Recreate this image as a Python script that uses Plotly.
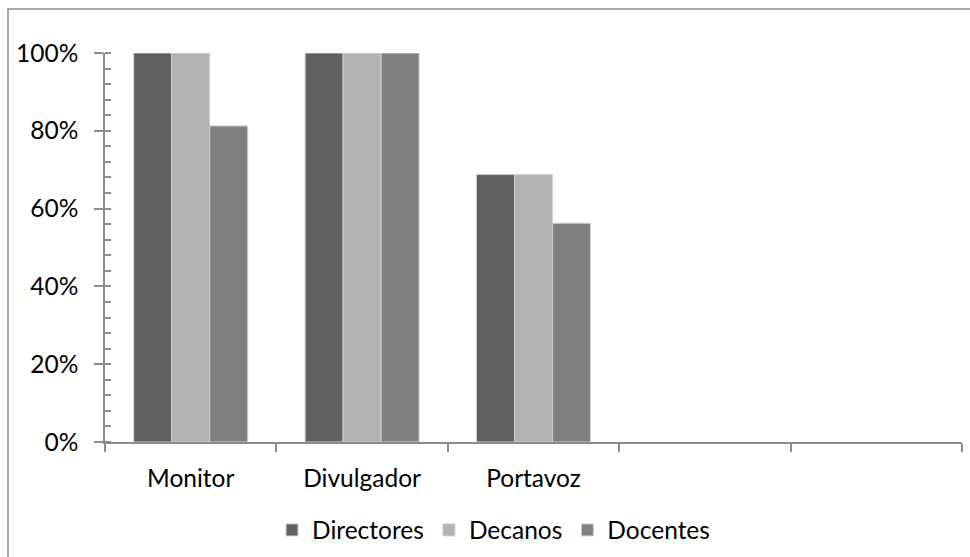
import plotly.graph_objects as go

categories = ["Monitor", "Divulgador", "Portavoz", " ", "  "]
series_names = ["Directores", "Decanos", "Docentes"]
directores = [1.0, 1.0, 0.6875]
decanos = [1.0, 1.0, 0.6875]
docentes = [0.8125, 1.0, 0.5625]
colors = ["#606060", "#b3b3b3", "#808080"]
y_ticks = [0, 0.2, 0.4, 0.6, 0.8, 1.0]
y_labels = ["0%", "20%", "40%", "60%", "80%", "100%"]

W, H = 970, 557
L, R, T, B = 105, 8, 53, 115
pw, ph = W - L - R, H - T - B

FONT = "Lato"
AX = "#8c8c8c"
FS = 24.5

fig = go.Figure()
for name, vals, col in zip(series_names, [directores, decanos, docentes], colors):
    fig.add_trace(go.Bar(
        x=categories[:len(vals)], y=vals, name=name,
        marker=dict(color=col, line=dict(color="#cfcfcf", width=1)),
    ))

fig.update_layout(
    width=W, height=H,
    margin=dict(l=L, r=R, t=T, b=B, autoexpand=False),
    paper_bgcolor="white", plot_bgcolor="white",
    barmode="group", bargap=0.335, bargroupgap=0,
    font=dict(family=FONT, size=FS, color="black"),
    showlegend=True,
    legend=dict(orientation="h", xref="container", yref="container",
                x=272 / W, xanchor="left", y=1 - 530 / H, yanchor="middle",
                font=dict(family=FONT, size=FS, color="black"),
                itemwidth=30, traceorder="normal"),
    xaxis=dict(
        type="category", categoryorder="array", categoryarray=categories,
        range=[-0.5, 4.5],
        showline=True, linecolor=AX, linewidth=1.5,
        ticks="outside", ticklen=8, tickcolor=AX, tickwidth=1.5,
        tickson="boundaries", showgrid=False, zeroline=False,
        ticklabelstandoff=14, automargin=False,
    ),
    yaxis=dict(
        range=[0, 1], tickvals=y_ticks, ticktext=y_labels,
        showline=True, linecolor=AX, linewidth=1.5,
        ticks="outside", ticklen=9, tickcolor=AX, tickwidth=1.5,
        showgrid=False, zeroline=False, ticklabelstandoff=11, automargin=False,
        minor=dict(ticks="inside", ticklen=6, dtick=0.04, tickcolor=AX, tickwidth=1.5, showgrid=False),
    ),
    yaxis2=dict(
        overlaying="y", range=[0, 1], tickvals=y_ticks, showticklabels=False,
        ticks="inside", ticklen=6, tickcolor=AX, tickwidth=1.5,
        showgrid=False, zeroline=False, showline=False,
    ),
    shapes=[dict(
        type="rect", xref="paper", yref="paper",
        x0=(8 - L) / pw, x1=1 + (R + 10) / pw,
        y0=-(B + 10) / ph, y1=1 + (T - 9) / ph,
        line=dict(color="#8c8c8c", width=1.5), fillcolor="rgba(0,0,0,0)", layer="below",
    )],
)
fig.add_trace(go.Scatter(x=[categories[0]], y=[None], yaxis="y2", showlegend=False, hoverinfo="skip"))

fig.write_html("out.html", config={"displayModeBar": False},
               post_script="document.body.style.margin='0';document.body.style.overflow='hidden';")
